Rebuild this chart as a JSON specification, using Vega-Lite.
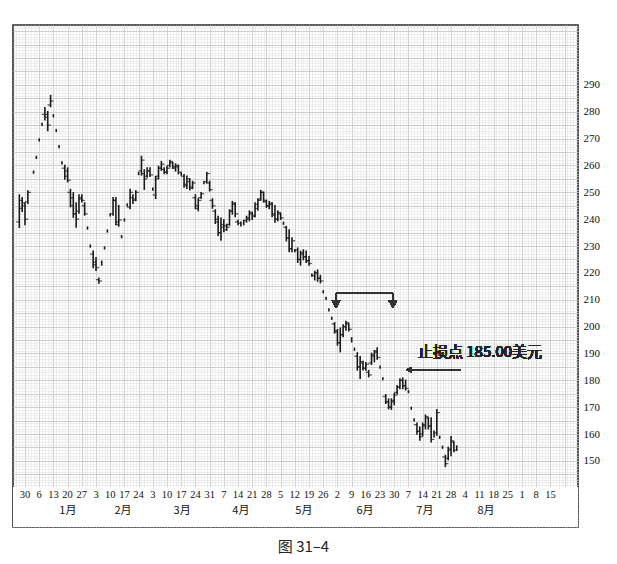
{
  "$schema": "https://vega.github.io/schema/vega-lite/v6.json",
  "width": 565,
  "height": 502,
  "autosize": {"type": "none"},
  "padding": {"left": 13, "top": 25, "right": 39, "bottom": 37},
  "background": "white",
  "config": {"view": {"stroke": "#2a2a2a", "strokeWidth": 1.6}, "axis": {"title": null}},
  "title": {"text": "图 31–4", "orient": "bottom", "offset": 13, "fontSize": 15, "font": "Noto Sans CJK SC", "fontWeight": "normal", "color": "#222", "dx": 8},
  "datasets": {
    "weeks": [
      {"t":0,"lab":"30"},{"t":5,"lab":"6"},{"t":10,"lab":"13"},{"t":15,"lab":"20"},{"t":20,"lab":"27"},
      {"t":25,"lab":"3"},{"t":30,"lab":"10"},{"t":35,"lab":"17"},{"t":40,"lab":"24"},
      {"t":45,"lab":"3"},{"t":50,"lab":"10"},{"t":55,"lab":"17"},{"t":60,"lab":"24"},{"t":65,"lab":"31"},
      {"t":70,"lab":"7"},{"t":75,"lab":"14"},{"t":80,"lab":"21"},{"t":85,"lab":"28"},
      {"t":90,"lab":"5"},{"t":95,"lab":"12"},{"t":100,"lab":"19"},{"t":105,"lab":"26"},
      {"t":110,"lab":"2"},{"t":115,"lab":"9"},{"t":120,"lab":"16"},{"t":125,"lab":"23"},{"t":130,"lab":"30"},
      {"t":135,"lab":"7"},{"t":140,"lab":"14"},{"t":145,"lab":"21"},{"t":150,"lab":"28"},
      {"t":155,"lab":"4"},{"t":160,"lab":"11"},{"t":165,"lab":"18"},{"t":170,"lab":"25"},
      {"t":175,"lab":"1"},{"t":180,"lab":"8"},{"t":185,"lab":"15"}
    ],
    "months": [
      {"t":15.1,"lab":"1月"},{"t":34.5,"lab":"2月"},{"t":55.3,"lab":"3月"},{"t":76,"lab":"4月"},
      {"t":98.2,"lab":"5月"},{"t":119.7,"lab":"6月"},{"t":140.8,"lab":"7月"},{"t":162.3,"lab":"8月"}
    ],
    "px": [
      {"t":-2,"o":239,"h":249,"l":237,"c":247},
      {"t":-1,"o":244,"h":248,"l":243,"c":246},
      {"t":0,"o":245,"h":246,"l":238,"c":240},
      {"t":1,"o":246.5,"h":250.5,"l":246,"c":250},
      {"t":3,"h":257.8,"l":257.2},
      {"t":4,"h":263.3,"l":262.7},
      {"t":5,"h":269.8,"l":269.2},
      {"t":6,"h":275.6,"l":275},
      {"t":7,"o":279,"h":281.5,"l":277,"c":278},
      {"t":8,"o":279,"h":280,"l":273,"c":275},
      {"t":9,"o":282.5,"h":286,"l":282,"c":284},
      {"t":10,"h":278.8,"l":278.2},
      {"t":11,"h":273.3,"l":272.7},
      {"t":12,"h":267.3,"l":266.7},
      {"t":13,"h":261.3,"l":260.7},
      {"t":14,"o":259,"h":260,"l":255,"c":256},
      {"t":15,"o":258,"h":259,"l":254,"c":254.5},
      {"t":16,"o":250,"h":251,"l":244.7,"c":245},
      {"t":17,"o":248,"h":249.8,"l":240.8,"c":242},
      {"t":18,"o":242,"h":246,"l":237.1,"c":240},
      {"t":19,"o":243,"h":249,"l":242.3,"c":248},
      {"t":20,"o":247.5,"h":249,"l":246.5,"c":247},
      {"t":21,"o":245,"h":246,"l":241.6,"c":242},
      {"t":22,"h":237,"l":236.4},
      {"t":23,"h":230.3,"l":229.7},
      {"t":24,"o":227,"h":228,"l":222,"c":223},
      {"t":25,"o":224,"h":225.6,"l":221,"c":222},
      {"t":26,"o":217.5,"h":218,"l":216.3,"c":217},
      {"t":27,"h":224.3,"l":223},
      {"t":28,"h":229.6,"l":229},
      {"t":29,"h":235.9,"l":235.3},
      {"t":30,"h":241.9,"l":241.3},
      {"t":31,"o":242,"h":248,"l":241.6,"c":247},
      {"t":32,"o":247,"h":248,"l":238,"c":239},
      {"t":33,"o":238,"h":245,"l":237.5,"c":239.7},
      {"t":34,"h":233.8,"l":233.2},
      {"t":35,"h":240,"l":239.4},
      {"t":36,"h":245.6,"l":245},
      {"t":37,"o":244.5,"h":251,"l":244,"c":250},
      {"t":38,"o":248,"h":249,"l":246,"c":247},
      {"t":39,"o":247.5,"h":250.5,"l":247,"c":250},
      {"t":40,"h":257.3,"l":256.7},
      {"t":41,"o":258,"h":263.3,"l":256.5,"c":262},
      {"t":42,"o":257,"h":258.3,"l":251.2,"c":255},
      {"t":43,"o":256,"h":259,"l":255.7,"c":258},
      {"t":44,"o":258,"h":259,"l":256,"c":256.5},
      {"t":45,"h":251.5,"l":250.9},
      {"t":46,"o":249,"h":255.8,"l":247.8,"c":255},
      {"t":47,"o":256,"h":259.6,"l":255.2,"c":259},
      {"t":48,"o":259,"h":261.4,"l":258.3,"c":260.5},
      {"t":49,"o":258.5,"h":259,"l":257,"c":257.5},
      {"t":50,"o":257.5,"h":259.5,"l":257,"c":259},
      {"t":51,"o":260,"h":261.8,"l":259.6,"c":261.5},
      {"t":52,"o":261,"h":261,"l":259,"c":259.5},
      {"t":53,"o":259,"h":260.5,"l":258,"c":260},
      {"t":54,"o":259.5,"h":260,"l":257,"c":257.5},
      {"t":55,"h":257.3,"l":256.5},
      {"t":56,"o":256,"h":256.5,"l":252,"c":252.5},
      {"t":57,"o":253,"h":256,"l":251.5,"c":255},
      {"t":58,"o":254,"h":255,"l":251,"c":251.5},
      {"t":59,"o":252,"h":254,"l":251.5,"c":253.5},
      {"t":60,"o":248,"h":249,"l":244,"c":245},
      {"t":61,"o":244,"h":247.5,"l":243.2,"c":247},
      {"t":62,"o":248,"h":249.8,"l":247.9,"c":249.5},
      {"t":63,"h":253.9,"l":253.3},
      {"t":64,"o":254,"h":257.3,"l":253.6,"c":257},
      {"t":65,"o":253.5,"h":254,"l":250.6,"c":251},
      {"t":66,"o":247,"h":247.5,"l":244.2,"c":245},
      {"t":67,"o":243,"h":243.4,"l":238.5,"c":239},
      {"t":68,"o":240,"h":241,"l":234,"c":235},
      {"t":69,"o":235,"h":240.3,"l":232.3,"c":238},
      {"t":70,"o":237,"h":239.7,"l":235.4,"c":236},
      {"t":71,"o":237.5,"h":238,"l":236,"c":237},
      {"t":72,"o":238,"h":243.4,"l":237.9,"c":243},
      {"t":73,"o":243,"h":246.5,"l":242,"c":246},
      {"t":74,"o":245.5,"h":246,"l":241,"c":242},
      {"t":75,"o":239,"h":239.5,"l":238,"c":238.5},
      {"t":76,"h":238.8,"l":237.6},
      {"t":77,"h":239.5,"l":238},
      {"t":78,"o":239.5,"h":241,"l":239,"c":240.5},
      {"t":79,"o":240,"h":243,"l":239.5,"c":242.5},
      {"t":80,"o":242,"h":242.5,"l":240,"c":241},
      {"t":81,"o":241.5,"h":246,"l":241,"c":245.5},
      {"t":82,"o":244,"h":247.4,"l":243.4,"c":247},
      {"t":83,"o":247.5,"h":250.6,"l":247.2,"c":250},
      {"t":84,"o":250,"h":250,"l":246.5,"c":247},
      {"t":85,"o":246.5,"h":247,"l":244.5,"c":245},
      {"t":86,"o":245,"h":246.5,"l":244,"c":246},
      {"t":87,"o":245.5,"h":246,"l":241,"c":241.5},
      {"t":88,"o":242,"h":245,"l":239,"c":240},
      {"t":89,"o":240,"h":243,"l":239.5,"c":242.5},
      {"t":90,"o":242,"h":242,"l":240,"c":240.5},
      {"t":91,"h":238.8,"l":238.2},
      {"t":92,"o":237,"h":237.2,"l":232,"c":233},
      {"t":93,"o":233,"h":236,"l":228,"c":229},
      {"t":94,"o":229,"h":233,"l":228,"c":232},
      {"t":95,"h":228.6,"l":228},
      {"t":96,"o":228.5,"h":229.2,"l":224,"c":225},
      {"t":97,"o":225,"h":228,"l":223,"c":227.5},
      {"t":98,"o":227,"h":228.5,"l":225,"c":226},
      {"t":99,"o":226,"h":228,"l":224,"c":224.5},
      {"t":100,"o":224.5,"h":226,"l":223,"c":223.5},
      {"t":101,"h":219.5,"l":218.9},
      {"t":102,"o":219,"h":220.5,"l":217.5,"c":220},
      {"t":103,"o":220,"h":221,"l":217,"c":218},
      {"t":104,"o":218,"h":219,"l":216.4,"c":217},
      {"t":105,"h":213.3,"l":212.7},
      {"t":106,"h":210.8,"l":210.2},
      {"t":107,"h":206.5,"l":205.9},
      {"t":108,"h":203.4,"l":202.8},
      {"t":109,"o":201,"h":201.4,"l":197.7,"c":198.5},
      {"t":110,"o":198,"h":198.8,"l":193.2,"c":194},
      {"t":111,"o":194,"h":199.4,"l":190.7,"c":197},
      {"t":112,"o":197,"h":200.6,"l":196.3,"c":200},
      {"t":113,"o":200,"h":201.9,"l":198.8,"c":201.5},
      {"t":114,"o":201,"h":201,"l":198.5,"c":199},
      {"t":115,"h":195.8,"l":194.4},
      {"t":116,"h":191.9,"l":191.3},
      {"t":117,"o":189,"h":190.2,"l":183.9,"c":185},
      {"t":118,"o":185,"h":188.8,"l":180.8,"c":187},
      {"t":119,"o":186.5,"h":187,"l":184,"c":184.5},
      {"t":120,"o":184.5,"h":186.5,"l":183.9,"c":186},
      {"t":121,"o":183,"h":183.6,"l":181.4,"c":182},
      {"t":122,"o":186.5,"h":190,"l":186,"c":189.5},
      {"t":123,"o":189,"h":191,"l":187,"c":190.5},
      {"t":124,"o":191,"h":192,"l":188,"c":188.5},
      {"t":125,"h":185.2,"l":184.6},
      {"t":126,"h":180.9,"l":180.3},
      {"t":127,"o":174,"h":174.6,"l":171.5,"c":172},
      {"t":128,"o":172,"h":173,"l":169.5,"c":170},
      {"t":129,"o":170,"h":173,"l":169.3,"c":172.5},
      {"t":130,"o":172,"h":175,"l":171,"c":174.5},
      {"t":131,"o":175.5,"h":178,"l":175,"c":177.5},
      {"t":132,"o":177.5,"h":180.5,"l":177,"c":180},
      {"t":133,"o":180,"h":180.8,"l":177,"c":178},
      {"t":134,"o":178,"h":180,"l":176.5,"c":177},
      {"t":135,"h":176.1,"l":175.5},
      {"t":136,"h":169.9,"l":169.3},
      {"t":137,"h":165.6,"l":165},
      {"t":138,"o":163.5,"h":164,"l":160,"c":161},
      {"t":139,"o":161,"h":162.5,"l":157.8,"c":159},
      {"t":140,"o":160,"h":164,"l":159.5,"c":163.5},
      {"t":141,"o":163,"h":167,"l":162,"c":166.5},
      {"t":142,"o":166,"h":166,"l":162,"c":163},
      {"t":143,"o":163,"h":166,"l":157.2,"c":158},
      {"t":144,"h":161,"l":159},
      {"t":145,"o":160.5,"h":169,"l":159.7,"c":168},
      {"t":146,"h":159.1,"l":158.5},
      {"t":147,"h":155.4,"l":154.8},
      {"t":148,"o":151.5,"h":152,"l":148,"c":149},
      {"t":149,"o":151,"h":155,"l":150.5,"c":154.5},
      {"t":150,"o":154,"h":159,"l":152,"c":157.5},
      {"t":151,"o":157,"h":157,"l":153.5,"c":154},
      {"t":152,"h":155.5,"l":154}
    ]
  },
  "data": {"name": "px"},
  "layer": [
    {
      "mark": {"type": "point", "opacity": 0},
      "encoding": {
        "x": {"field": "t", "type": "quantitative", "scale": {"domain": [-4.23, 194.7], "nice": false, "zero": false},
              "axis": {"orient": "bottom", "grid": true, "gridColor": "#e4e4e4", "gridWidth": 0.6, "labels": false, "ticks": false, "domain": false, "tickCount": 199, "title": null}},
        "y": {"field": "l", "type": "quantitative", "scale": {"domain": [125.4, 312.3], "nice": false, "zero": false},
              "axis": {"orient": "left", "grid": true, "gridColor": "#e4e4e4", "gridWidth": 0.6, "labels": false, "ticks": false, "domain": false, "tickCount": 187, "title": null}}
      }
    },
    {
      "mark": {"type": "point", "opacity": 0},
      "encoding": {
        "x": {"field": "t", "type": "quantitative",
              "axis": {"orient": "bottom", "grid": true, "gridColor": "#c6c6c6", "gridWidth": 0.8, "labels": false, "ticks": false, "domain": false, "tickCount": 40, "title": null}},
        "y": {"field": "l", "type": "quantitative",
              "axis": {"orient": "left", "grid": true, "gridColor": "#c6c6c6", "gridWidth": 0.8, "labels": false, "ticks": false, "domain": false, "tickCount": 37, "title": null}}
      }
    },
    {
      "mark": {"type": "rect", "color": "white", "clip": true},
      "encoding": {
        "x": {"datum": -10, "type": "quantitative", "axis": null},
        "x2": {"datum": 200},
        "y": {"datum": 120, "type": "quantitative", "axis": null},
        "y2": {"datum": 140.3}
      }
    },
    {
      "mark": {"type": "rule", "color": "#1a1a1a", "strokeWidth": 1.6, "strokeCap": "square"},
      "encoding": {
        "x": {"field": "t", "type": "quantitative", "axis": null},
        "y": {"field": "l", "type": "quantitative",
              "axis": {"orient": "right", "values": [150,160,170,180,190,200,210,220,230,240,250,260,270,280,290],
                       "grid": false, "ticks": false, "tickSize": 0, "domain": false, "labelPadding": 5,
                       "labelFont": "Liberation Serif", "labelFontSize": 11, "labelColor": "#111", "zindex": 1, "title": null}},
        "y2": {"field": "h"}
      }
    },
    {
      "mark": {"type": "tick", "orient": "horizontal", "size": 3, "thickness": 1.3, "xOffset": -1.6, "color": "#1a1a1a"},
      "encoding": {
        "x": {"field": "t", "type": "quantitative", "axis": null},
        "y": {"field": "o", "type": "quantitative", "axis": null}
      }
    },
    {
      "mark": {"type": "tick", "orient": "horizontal", "size": 3, "thickness": 1.3, "xOffset": 1.6, "color": "#1a1a1a"},
      "encoding": {
        "x": {"field": "t", "type": "quantitative", "axis": null},
        "y": {"field": "c", "type": "quantitative", "axis": null}
      }
    },
    {
      "data": {"name": "weeks"},
      "mark": {"type": "text", "font": "Liberation Serif", "fontSize": 10.5, "color": "#111", "align": "center", "baseline": "middle"},
      "encoding": {
        "x": {"field": "t", "type": "quantitative", "axis": null},
        "y": {"datum": 137.3, "type": "quantitative", "axis": null},
        "text": {"field": "lab"}
      }
    },
    {
      "data": {"name": "months"},
      "mark": {"type": "text", "font": "Noto Sans CJK SC", "fontSize": 11, "color": "#111", "align": "center", "baseline": "middle"},
      "encoding": {
        "x": {"field": "t", "type": "quantitative", "axis": null},
        "y": {"datum": 131.4, "type": "quantitative", "axis": null},
        "text": {"field": "lab"}
      }
    },
    {
      "mark": {"type": "rule", "color": "#333", "strokeWidth": 1.5},
      "encoding": {
        "x": {"datum": 109.5, "type": "quantitative", "axis": null},
        "x2": {"datum": 129.5},
        "y": {"datum": 212.4, "type": "quantitative", "axis": null}
      }
    },
    {
      "mark": {"type": "rule", "color": "#333", "strokeWidth": 1.5},
      "encoding": {
        "x": {"datum": 109.5, "type": "quantitative", "axis": null},
        "y": {"datum": 212.4, "type": "quantitative", "axis": null},
        "y2": {"datum": 209.2}
      }
    },
    {
      "mark": {"type": "rule", "color": "#333", "strokeWidth": 1.5},
      "encoding": {
        "x": {"datum": 129.5, "type": "quantitative", "axis": null},
        "y": {"datum": 212.4, "type": "quantitative", "axis": null},
        "y2": {"datum": 209.2}
      }
    },
    {
      "mark": {"type": "point", "shape": "triangle-down", "filled": true, "size": 70, "color": "#333", "opacity": 1},
      "encoding": {
        "x": {"datum": 109.5, "type": "quantitative", "axis": null},
        "y": {"datum": 208.3, "type": "quantitative", "axis": null}
      }
    },
    {
      "mark": {"type": "point", "shape": "triangle-down", "filled": true, "size": 70, "color": "#333", "opacity": 1},
      "encoding": {
        "x": {"datum": 129.5, "type": "quantitative", "axis": null},
        "y": {"datum": 208.3, "type": "quantitative", "axis": null}
      }
    },
    {
      "mark": {"type": "rule", "color": "#333", "strokeWidth": 1.4},
      "encoding": {
        "x": {"datum": 134.8, "type": "quantitative", "axis": null},
        "x2": {"datum": 153.2},
        "y": {"datum": 183.9, "type": "quantitative", "axis": null}
      }
    },
    {
      "mark": {"type": "point", "shape": "triangle-left", "filled": true, "size": 35, "color": "#333", "opacity": 1},
      "encoding": {
        "x": {"datum": 135.2, "type": "quantitative", "axis": null},
        "y": {"datum": 183.9, "type": "quantitative", "axis": null}
      }
    },
    {
      "mark": {"type": "text", "text": "止损点  185.00美元", "font": "Noto Sans CJK SC", "fontSize": 15, "fontWeight": "normal", "color": "#222", "align": "center", "baseline": "middle"},
      "encoding": {
        "x": {"datum": 160.2, "type": "quantitative", "axis": null},
        "y": {"datum": 190.7, "type": "quantitative", "axis": null}
      }
    }
  ],
  "resolve": {"scale": {"x": "shared", "y": "shared"}, "axis": {"x": "independent", "y": "independent"}}
}
